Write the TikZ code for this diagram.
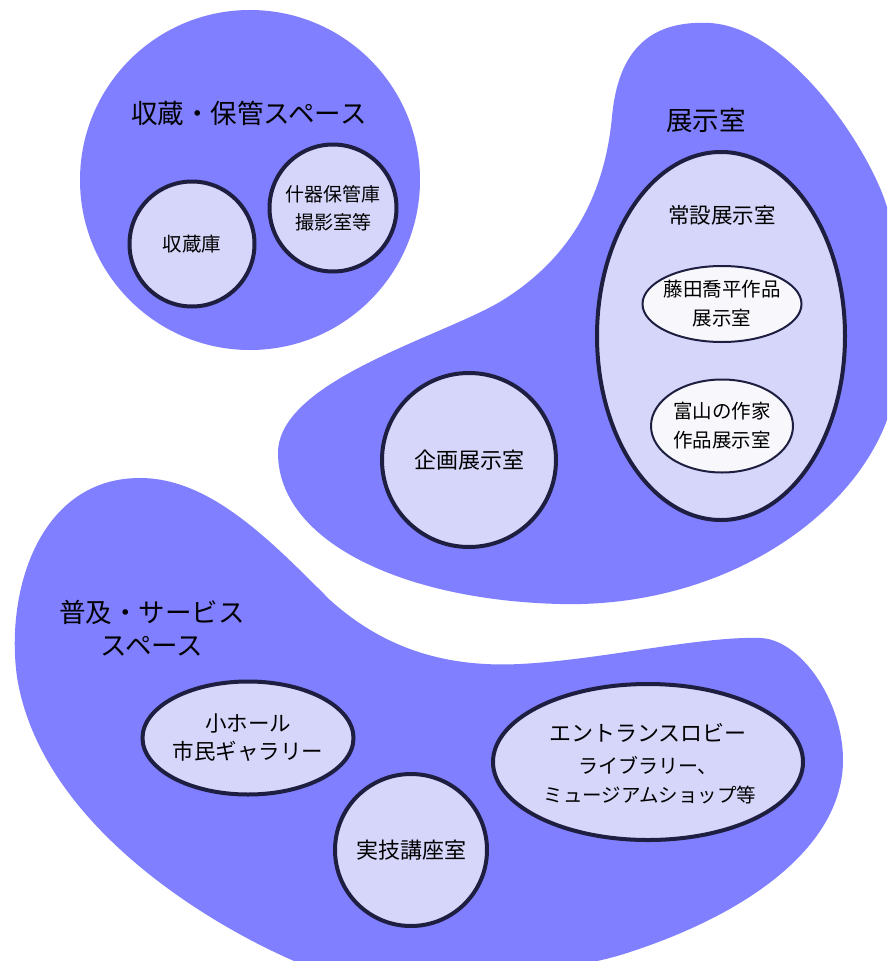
\documentclass[tikz,border=0pt]{standalone}
\usepackage{fontspec}
\newfontfamily\jp{Noto Sans CJK JP}
\usetikzlibrary{shapes.geometric}
\definecolor{blobc}{RGB}{127,127,255}
\definecolor{roomc}{RGB}{214,214,250}
\definecolor{subc}{RGB}{248,248,252}
\definecolor{edgec}{RGB}{30,30,64}
\begin{document}
\begin{tikzpicture}[x=1pt,y=-1pt,
  area/.style={fill=blobc,draw=none},
  roomshape/.style={draw=edgec,line width=4pt,fill=roomc,inner sep=0pt,outer sep=0pt},
  circ/.style={roomshape,circle},
  ell/.style={roomshape,ellipse},
  subell/.style={draw=edgec,line width=2pt,fill=subc,ellipse,inner sep=0pt,outer sep=0pt},
  title/.style={font=\jp\fontsize{26.5}{33}\selectfont,align=center,inner sep=0pt},
  lbl/.style={font=\jp\fontsize{19.5}{29}\selectfont,align=center,inner sep=0pt}]
\useasboundingbox (0,0) rectangle (887,961);
\clip (0,0) rectangle (887,961);
\fill[white] (0,0) rectangle (887,961);
% storage area
\fill[area] (250,180) circle (170pt);
% exhibition area
\fill[area] (710,23) .. controls (650,20) and (618,50) .. (612,117)
  .. controls (605,190) and (575,255) .. (503,300)
  .. controls (445,336) and (278,380) .. (278,453)
  .. controls (278,540) and (400,600) .. (560,604)
  .. controls (720,608) and (850,520) .. (887,420)
  .. controls (905,370) and (910,280) .. (887,207)
  .. controls (870,150) and (790,28) .. (710,23) -- cycle;
% service area
\fill[area] (140,478) .. controls (210,478) and (270,540) .. (330,600)
  .. controls (380,645) and (440,668) .. (520,664)
  .. controls (600,660) and (700,636) .. (760,638)
  .. controls (800,639) and (843,700) .. (843,760)
  .. controls (843,840) and (760,910) .. (627,953)
  .. controls (560,975) and (360,1000) .. (294,961)
  .. controls (200,920) and (40,820) .. (17,677)
  .. controls (5,590) and (40,478) .. (140,478) -- cycle;
% titles
\node[title] (t1) at (249,113) {収蔵・保管スペース};
\node[title] (t2) at (706,120) {展示室};
\node[title] (t3) at (152,628) {普及・サービス\\スペース};
% storage rooms
\node[circ,minimum size=125pt] (shuzo) at (192,244) {};
\node[lbl] (shuzoT) at (shuzo.center) {収蔵庫};
\node[circ,minimum size=127pt] (juki) at (333,208) {};
\node[lbl,font=\jp\fontsize{19}{28}\selectfont] (jukiT) at (juki.center) {什器保管庫\\撮影室等};
% exhibition rooms
\node[circ,minimum size=174pt] (kikaku) at (469,460) {};
\node[lbl,font=\jp\fontsize{22}{28}\selectfont] (kikakuT) at (kikaku.center) {企画展示室};
\node[ell,minimum width=248pt,minimum height=368pt] (josetsu) at (721,336) {};
\node[lbl,font=\jp\fontsize{21.5}{28}\selectfont] (josetsuT) at (722,215) {常設展示室};
\node[subell,minimum width=159pt,minimum height=76pt] (fujita) at (722,304) {};
\node[lbl] (fujitaT) at (fujita.center) {藤田喬平作品\\展示室};
\node[subell,minimum width=142pt,minimum height=93pt] (toyama) at (722,426) {};
\node[lbl] (toyamaT) at (toyama.center) {富山の作家\\作品展示室};
% service rooms
\node[ell,minimum width=211pt,minimum height=113pt] (hall) at (248,738) {};
\node[lbl,font=\jp\fontsize{21.5}{28}\selectfont] (hallT) at (hall.center) {小ホール\\市民ギャラリー};
\node[circ,minimum size=152pt] (jitsugi) at (411,850) {};
\node[lbl,font=\jp\fontsize{22}{28}\selectfont] (jitsugiT) at (jitsugi.center) {実技講座室};
\node[ell,minimum width=310pt,minimum height=156pt] (lobby) at (648,762) {};
\node[lbl,font=\jp\fontsize{22}{32}\selectfont] (lobbyT1) at (648,733) {エントランスロビー};
\node[lbl,font=\jp\fontsize{20}{30}\selectfont] (lobbyT2) at (648,765) {ライブラリー、};
\node[lbl,font=\jp\fontsize{19.5}{30}\selectfont] (lobbyT3) at (650,795) {ミュージアムショップ等};
\end{tikzpicture}
\end{document}
